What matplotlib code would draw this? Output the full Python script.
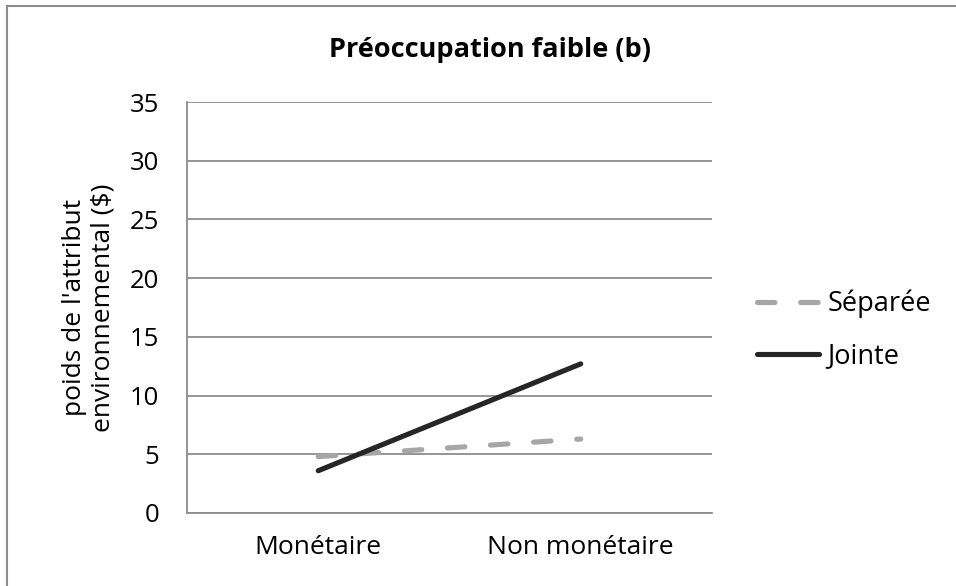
import matplotlib.pyplot as plt
from matplotlib.patches import Rectangle

plt.rcParams['font.family'] = ['Open Sans', 'DejaVu Sans']

categories = ['Monétaire', 'Non monétaire']
separee = [4.8, 6.3]
jointe = [3.6, 12.7]
yticks = [0, 5, 10, 15, 20, 25, 30, 35]

fig = plt.figure(figsize=(9.56, 5.86), dpi=100)
# cadre du graphique (seuls le haut et la gauche sont visibles)
fig.patches.append(Rectangle((7 / 956, -0.05), 1.1, 1 - 6 / 586 + 0.05,
                             transform=fig.transFigure, fill=False,
                             edgecolor='#8c8c8c', linewidth=1.5))

ax = fig.add_axes([187 / 956, 1 - 513 / 586, (712 - 187) / 956, (513 - 102) / 586])
x = [0, 1]
ax.plot(x, separee, color='#a6a6a6', linewidth=3.7, linestyle=(0, (3.4, 5.0)),
        solid_capstyle='round', dash_capstyle='round', label='Séparée')
ax.plot(x, jointe, color='#262626', linewidth=3.7, solid_capstyle='round',
        label='Jointe')

ax.set_xlim(-0.5, 1.5)
ax.set_ylim(0, 35)
ax.set_xticks(x)
ax.set_xticklabels(categories)
ax.set_yticks(yticks)
ax.tick_params(axis='y', length=0, labelsize=18.5, pad=20)
ax.tick_params(axis='x', length=0, labelsize=19, pad=16)
ax.yaxis.grid(True, color='#8c8c8c', linewidth=1.3)
ax.set_axisbelow(True)
for s in ['top', 'right']:
    ax.spines[s].set_visible(False)
for s in ['left', 'bottom']:
    ax.spines[s].set_color('#8c8c8c')
    ax.spines[s].set_linewidth(1.3)

ax.set_ylabel("poids de l'attribut\nenvironnemental ($)", fontsize=19,
              linespacing=1.2)
ax.yaxis.set_label_coords(-0.136, 0.5)
fig.text(490 / 956, 1 - 50 / 586, 'Préoccupation faible (b)', fontsize=19.5,
         fontweight='bold', ha='center', va='center')

ax.legend(loc='center left', bbox_to_anchor=(1.086, 0.445), frameon=False,
          fontsize=19.5, handlelength=2.3, handletextpad=0.3, labelspacing=0.9,
          borderpad=0, borderaxespad=0)

fig.savefig('out.png', dpi=100)
